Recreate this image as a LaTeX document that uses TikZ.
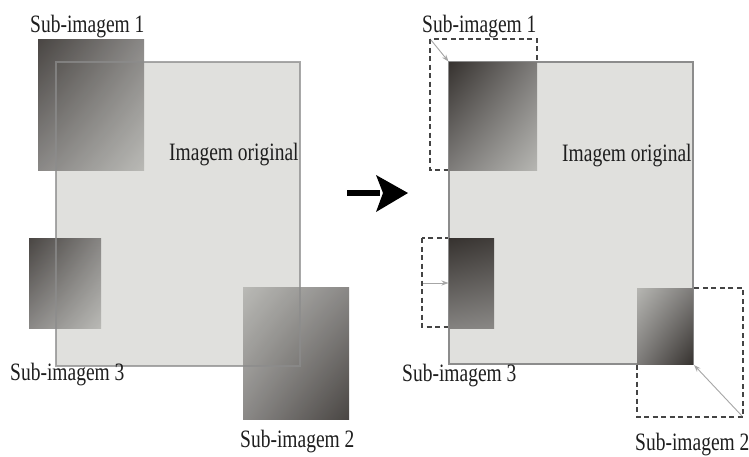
\documentclass[tikz,border=0pt]{standalone}
\usepackage{fontspec}
\setmainfont[FakeStretch=0.78]{Liberation Serif}
\usetikzlibrary{arrows.meta,shadings}
\definecolor{mainfill}{HTML}{E0E0DD}
\definecolor{mainborder}{HTML}{8C8C8C}
\definecolor{dk}{HTML}{36322F}
\definecolor{md}{HTML}{7E7C7A}
\definecolor{lt}{HTML}{B6B6B2}
\definecolor{txt}{HTML}{1E1E1E}
\definecolor{dashc}{HTML}{444444}
\definecolor{ptr}{HTML}{A6A6A6}
\tikzset{
  lbl/.style={anchor=base west, inner sep=0pt, font=\fontsize{25}{27}\selectfont, text=txt},
  mainrect/.style={fill=mainfill},
  mainedge/.style={draw=mainborder, line width=1.6pt},
  dashbox/.style={draw=dashc, line width=1.3pt, dash pattern=on 5pt off 3.5pt},
  ptrarrow/.style={draw=ptr, line width=0.9pt, -{Stealth[length=7pt,width=5pt]}},
  tldark/.style={upper left=dk, upper right=md, lower left=md, lower right=lt},
  brdark/.style={upper left=lt, upper right=md, lower left=md, lower right=dk},
}
\begin{document}
\begin{tikzpicture}[x=1pt,y=-1pt]
\useasboundingbox (0,0) rectangle (749,456);
\fill[white] (0,0) rectangle (749,456);

% ---------- left panel ----------
\fill[mainrect] (56,62) rectangle (300,366);
\shade[tldark, opacity=0.9] (38,39) rectangle (144,170);
\shade[tldark, opacity=0.9] (29,238) rectangle (101,328);
\shade[brdark, opacity=0.9] (243,287) rectangle (349,419);
\draw[mainedge, draw opacity=0.75] (56,62) rectangle (300,366);

\node[lbl] (l1) at (30,32) {Sub-imagem 1};
\node[lbl] (lo) at (169,160) {Imagem original};
\node[lbl] (l3) at (10,380) {Sub-imagem 3};
\node[lbl] (l2) at (240,447) {Sub-imagem 2};

% ---------- big arrow ----------
\coordinate (as) at (347,192.5);
\coordinate (ae) at (380,192.5);
\draw[black, line width=6pt] (as) -- (ae);
\fill[black] (376,175) -- (408,193) -- (376,212) -- (383,193) -- cycle;

% ---------- right panel ----------
\draw[dashbox] (430,39) rectangle (537,170);
\draw[dashbox] (422,238) rectangle (449,327);
\draw[dashbox] (637,288) rectangle (743,417);
\fill[mainrect] (449,62) rectangle (693,364);
\draw[mainedge] (449,62) rectangle (693,364);
\shade[tldark] (449,62) rectangle (537,170);
\shade[upper left=dk, upper right=dk!85!md, lower left=md!90!lt, lower right=md!80!lt] (449,238) rectangle (494,328);
\shade[brdark] (637,288) rectangle (693,364);

\coordinate (d1) at (431,40);
\coordinate (s1) at (448.5,61.5);
\coordinate (d3) at (423,283);
\coordinate (s3) at (448.5,283);
\coordinate (d2) at (742,416);
\coordinate (s2) at (694,365);
\draw[ptrarrow] (d1) -- (s1);
\draw[ptrarrow] (d3) -- (s3);
\draw[ptrarrow] (d2) -- (s2);

\node[lbl] (r1) at (422,32) {Sub-imagem 1};
\node[lbl] (ro) at (562,161) {Imagem original};
\node[lbl] (r3) at (402,381) {Sub-imagem 3};
\node[lbl] (r2) at (635,450) {Sub-imagem 2};
\end{tikzpicture}
\end{document}
